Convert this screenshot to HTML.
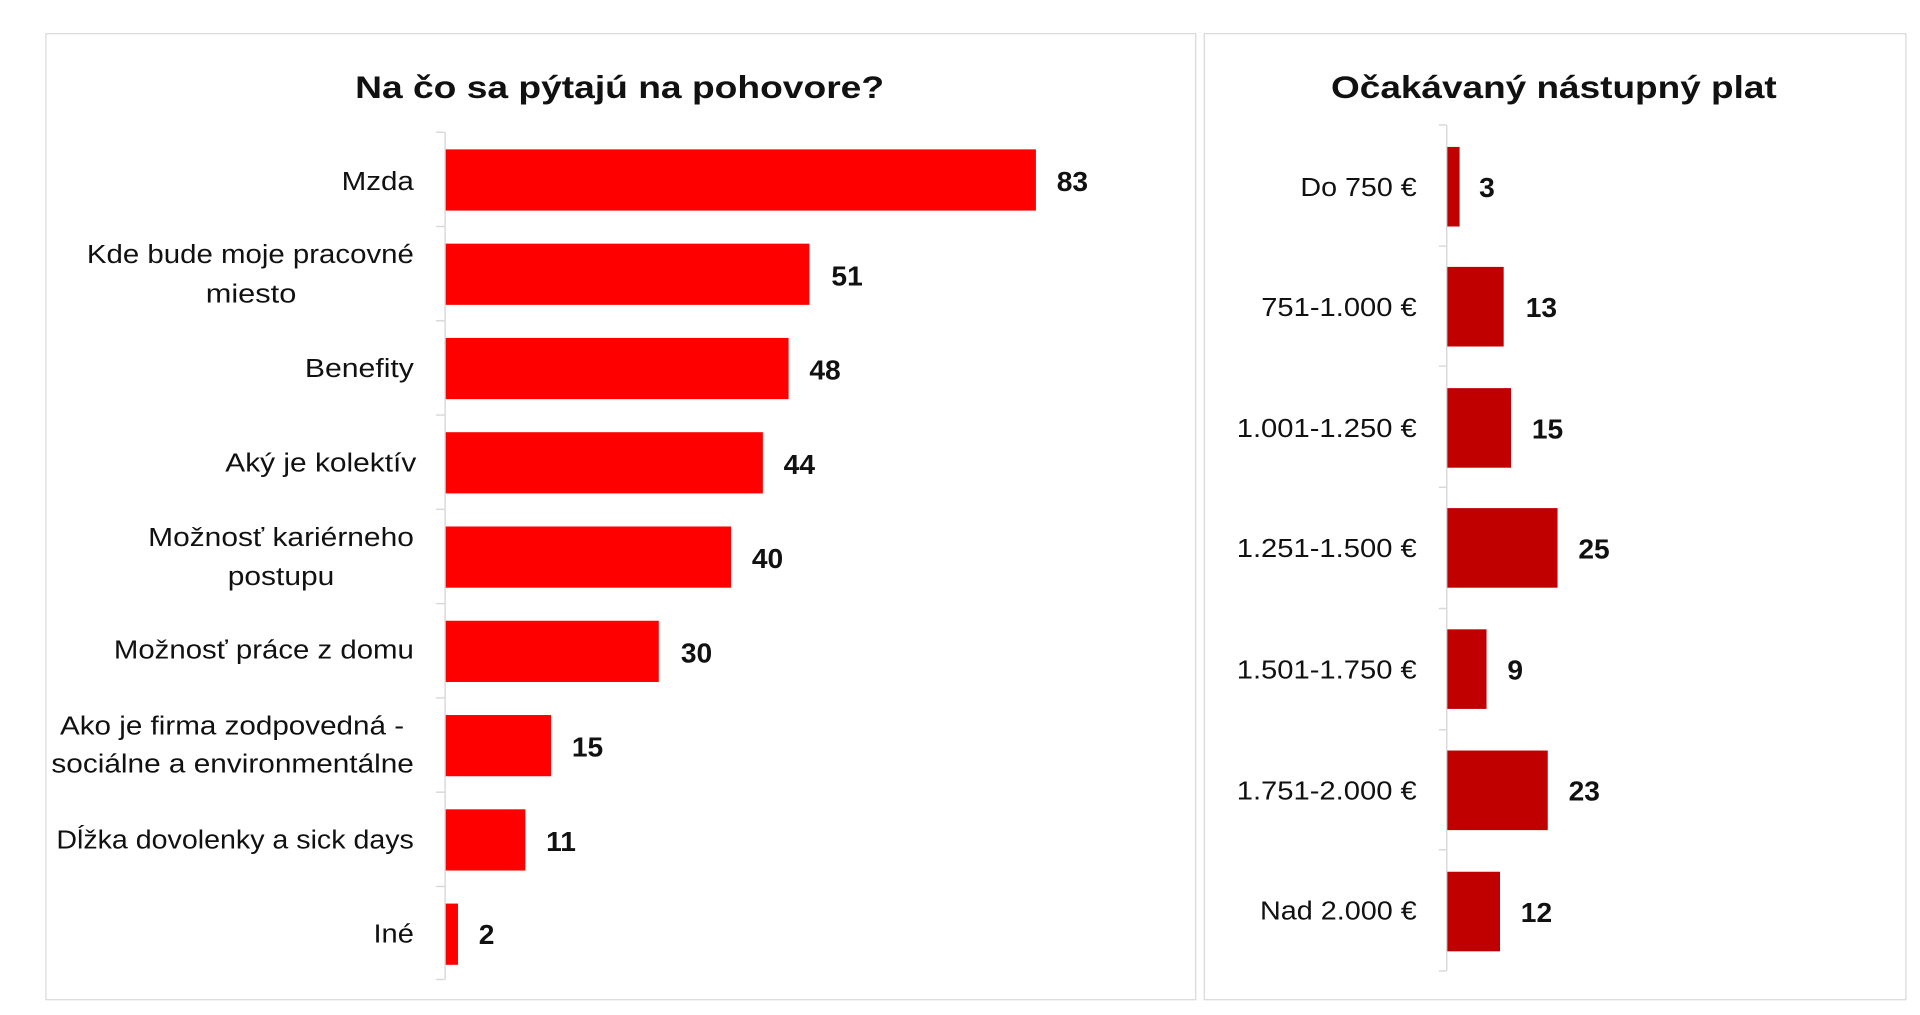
<!DOCTYPE html>
<html><head><meta charset="utf-8"><style>
html,body{margin:0;padding:0;background:#fff;width:1920px;height:1015px;overflow:hidden}
svg{display:block}
text{font-family:"Liberation Sans",sans-serif;fill:#111}
.c{font-size:21px}
.v{font-size:23px;font-weight:bold}
.t{font-size:26px;font-weight:bold}
</style></head><body>
<svg width="1920" height="1015" viewBox="0 0 1568 829" preserveAspectRatio="none">
<rect x="37.5" y="27.5" width="939" height="789" fill="#fff" stroke="#d9d9d9"/>
<rect x="983.5" y="27.5" width="573" height="789" fill="#fff" stroke="#d9d9d9"/>
<text class="t" x="506" y="80" text-anchor="middle" textLength="432" lengthAdjust="spacingAndGlyphs">Na čo sa pýtajú na pohovore?</text>
<text class="t" x="1269" y="80" text-anchor="middle" textLength="364" lengthAdjust="spacingAndGlyphs">Očakávaný nástupný plat</text>
<g stroke="#d9d9d9" stroke-width="1.2">
<line x1="363.5" y1="108" x2="363.5" y2="800"/>
<line x1="356" y1="108" x2="363" y2="108"/><line x1="356" y1="185" x2="363" y2="185"/><line x1="356" y1="262" x2="363" y2="262"/><line x1="356" y1="339" x2="363" y2="339"/><line x1="356" y1="416" x2="363" y2="416"/><line x1="356" y1="493" x2="363" y2="493"/><line x1="356" y1="570" x2="363" y2="570"/><line x1="356" y1="647" x2="363" y2="647"/><line x1="356" y1="724" x2="363" y2="724"/><line x1="356" y1="800" x2="363" y2="800"/>
<line x1="1181.5" y1="102" x2="1181.5" y2="793"/>
<line x1="1175" y1="102" x2="1181" y2="102"/><line x1="1175" y1="201" x2="1181" y2="201"/><line x1="1175" y1="299" x2="1181" y2="299"/><line x1="1175" y1="398" x2="1181" y2="398"/><line x1="1175" y1="497" x2="1181" y2="497"/><line x1="1175" y1="596" x2="1181" y2="596"/><line x1="1175" y1="694" x2="1181" y2="694"/><line x1="1175" y1="793" x2="1181" y2="793"/>
</g>
<g fill="#ff0000">
<rect x="364" y="122" width="482" height="50"/>
<rect x="364" y="199" width="297" height="50"/>
<rect x="364" y="276" width="280" height="50"/>
<rect x="364" y="353" width="259" height="50"/>
<rect x="364" y="430" width="233" height="50"/>
<rect x="364" y="507" width="174" height="50"/>
<rect x="364" y="584" width="86" height="50"/>
<rect x="364" y="661" width="65" height="50"/>
<rect x="364" y="738" width="10" height="50"/>
</g>
<g fill="#c00000">
<rect x="1182" y="120" width="10" height="65"/>
<rect x="1182" y="218" width="46" height="65"/>
<rect x="1182" y="317" width="52" height="65"/>
<rect x="1182" y="415" width="90" height="65"/>
<rect x="1182" y="514" width="32" height="65"/>
<rect x="1182" y="613" width="82" height="65"/>
<rect x="1182" y="712" width="43" height="65"/>
</g>
<g class="c" text-anchor="end">
<text x="338" y="155" textLength="59" lengthAdjust="spacingAndGlyphs">Mzda</text>
<text x="338" y="215" textLength="267" lengthAdjust="spacingAndGlyphs">Kde bude moje pracovné</text>
<text x="242" y="247" textLength="74" lengthAdjust="spacingAndGlyphs">miesto</text>
<text x="338" y="308" textLength="89" lengthAdjust="spacingAndGlyphs">Benefity</text>
<text x="340" y="385" textLength="156" lengthAdjust="spacingAndGlyphs">Aký je kolektív</text>
<text x="338" y="446" textLength="217" lengthAdjust="spacingAndGlyphs">Možnosť kariérneho</text>
<text x="273" y="478" textLength="87" lengthAdjust="spacingAndGlyphs">postupu</text>
<text x="338" y="538" textLength="245" lengthAdjust="spacingAndGlyphs">Možnosť práce z domu</text>
<text x="330" y="600" textLength="281" lengthAdjust="spacingAndGlyphs">Ako je firma zodpovedná -</text>
<text x="338" y="631" textLength="296" lengthAdjust="spacingAndGlyphs">sociálne a environmentálne</text>
<text x="338" y="693" textLength="292" lengthAdjust="spacingAndGlyphs">Dĺžka dovolenky a sick days</text>
<text x="338" y="770" textLength="33" lengthAdjust="spacingAndGlyphs">Iné</text>
<text x="1157" y="160" textLength="95" lengthAdjust="spacingAndGlyphs">Do 750 €</text>
<text x="1157" y="258" textLength="127" lengthAdjust="spacingAndGlyphs">751-1.000 €</text>
<text x="1157" y="357" textLength="147" lengthAdjust="spacingAndGlyphs">1.001-1.250 €</text>
<text x="1157" y="455" textLength="147" lengthAdjust="spacingAndGlyphs">1.251-1.500 €</text>
<text x="1157" y="554" textLength="147" lengthAdjust="spacingAndGlyphs">1.501-1.750 €</text>
<text x="1157" y="653" textLength="147" lengthAdjust="spacingAndGlyphs">1.751-2.000 €</text>
<text x="1157" y="751" textLength="128" lengthAdjust="spacingAndGlyphs">Nad 2.000 €</text>
</g>
<g class="v">
<text x="863" y="156">83</text>
<text x="679" y="233">51</text>
<text x="661" y="310">48</text>
<text x="640" y="387">44</text>
<text x="614" y="464">40</text>
<text x="556" y="541">30</text>
<text x="467" y="618">15</text>
<text x="446" y="695">11</text>
<text x="391" y="771">2</text>
<text x="1208" y="161">3</text>
<text x="1246" y="259">13</text>
<text x="1251" y="358">15</text>
<text x="1289" y="456">25</text>
<text x="1231" y="555">9</text>
<text x="1281" y="654">23</text>
<text x="1242" y="753">12</text>
</g>
</svg>
</body></html>
